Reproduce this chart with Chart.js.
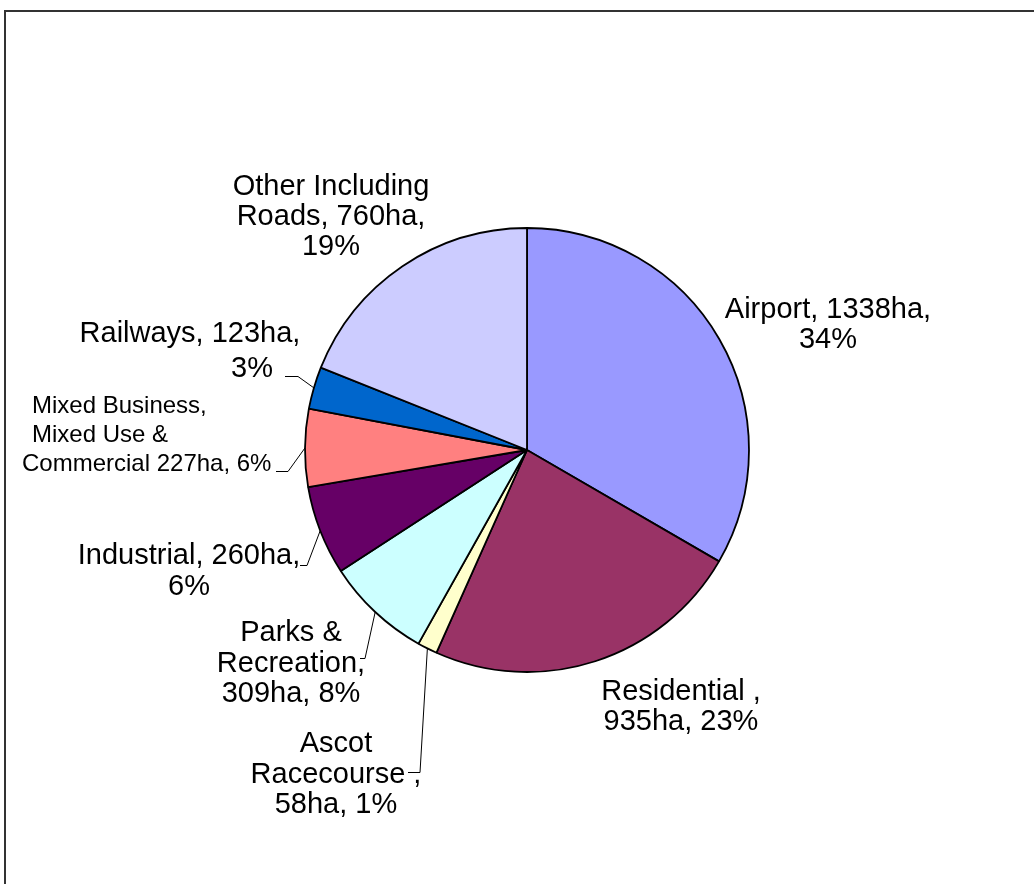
<!DOCTYPE html>
<html>
<head>
<meta charset="utf-8">
<script src="https://cdn.jsdelivr.net/npm/chart.js@4.4.0/dist/chart.umd.min.js"></script>
<style>
  html, body { margin: 0; padding: 0; background: #fff; }
  canvas { display: block; }
</style>
</head>
<body>
<canvas id="landUse" width="1034" height="884"></canvas>
<script>
// land use by category, clockwise from 12 o'clock
var categories = ['Airport', 'Residential', 'Ascot Racecourse', 'Parks & Recreation',
    'Industrial', 'Mixed Business, Mixed Use & Commercial', 'Railways', 'Other Including Roads'];
var hectares = [1338, 935, 58, 309, 260, 227, 123, 760];
var percents = [34, 23, 1, 8, 6, 6, 3, 19];
var colors = ['#9999FF', '#993366', '#FFFFCC', '#CCFFFF', '#660066', '#FF8080', '#0066CC', '#CCCCFF'];

// label text as wrapped in the original
var labelLines = [
    ['Airport, 1338ha,', '34%'],
    ['Residential ,', '935ha, 23%'],
    ['Ascot', 'Racecourse ,', '58ha, 1%'],
    ['Parks &', 'Recreation,', '309ha, 8%'],
    ['Industrial, 260ha,', '6%'],
    ['Mixed Business,', 'Mixed Use &', 'Commercial 227ha, 6%'],
    ['Railways, 123ha,', '3%'],
    ['Other Including', 'Roads, 760ha,', '19%']
];

// where each label sits (x of centre / left, first baseline) and its leader elbow
var labelLayout = [
    { x: 828, y: 318, lh: 30, size: 29, align: 'center' },
    { x: 681, y: 700, lh: 30, size: 29, align: 'center' },
    { x: 336, y: 752, lh: 30.5, size: 29, align: 'center', leader: [408, 772, 420] },
    { x: 291, y: 641, lh: 30.5, size: 29, align: 'center', leader: [360, 658, 365] },
    { x: 189, y: 564, lh: 31, size: 29, align: 'center', leader: [300, 565, 307] },
    { x: 32, y: 413, lh: 29, size: 24, align: 'left', leader: [276, 471, 288] },
    { x: 190, y: 342, lh: 35, size: 29, align: 'center', leader: [285, 376, 298] },
    { x: 331, y: 195, lh: 30, size: 29, align: 'center' }
];
var lineOffsets = { 5: [0, 0, -10], 6: [0, 62] };

var pieLabels = {
    id: 'pieLabels',
    beforeDraw: function(chart) {
        var ctx = chart.ctx;
        ctx.save();
        ctx.strokeStyle = '#333';
        ctx.lineWidth = 2;
        ctx.beginPath();
        ctx.moveTo(5, 890);
        ctx.lineTo(5, 11);
        ctx.lineTo(1040, 11);
        ctx.stroke();
        ctx.restore();
    },
    afterDraw: function(chart) {
        var ctx = chart.ctx;
        var arcs = chart.getDatasetMeta(0).data;
        ctx.save();
        ctx.fillStyle = '#000';
        ctx.textBaseline = 'alphabetic';
        for (var i = 0; i < arcs.length; i++) {
            var lay = labelLayout[i];
            ctx.font = lay.size + 'px "Liberation Sans", Arial, sans-serif';
            ctx.textAlign = lay.align;
            for (var j = 0; j < labelLines[i].length; j++) {
                var dx = (lineOffsets[i] && lineOffsets[i][j]) || 0;
                ctx.fillText(labelLines[i][j], lay.x + dx, lay.y + j * lay.lh);
            }
            if (lay.leader) {
                var a = arcs[i];
                var mid = (a.startAngle + a.endAngle) / 2;
                var ex = a.x + Math.cos(mid) * a.outerRadius;
                var ey = a.y + Math.sin(mid) * a.outerRadius;
                ctx.strokeStyle = '#000';
                ctx.lineWidth = 1;
                ctx.beginPath();
                ctx.moveTo(lay.leader[0], lay.leader[1] + 0.5);
                ctx.lineTo(lay.leader[2], lay.leader[1] + 0.5);
                ctx.lineTo(ex, ey);
                ctx.stroke();
            }
        }
        ctx.restore();
    }
};

new Chart(document.getElementById('landUse').getContext('2d'), {
    type: 'pie',
    data: {
        labels: categories,
        datasets: [{
            data: hectares,
            backgroundColor: colors,
            borderColor: '#000',
            borderWidth: 1.8,
            borderAlign: 'center'
        }]
    },
    options: {
        responsive: false,
        animation: false,
        radius: 222,
        layout: { padding: { left: 305, right: 285, top: 228, bottom: 212 } },
        plugins: {
            legend: { display: false },
            tooltip: { enabled: false }
        }
    },
    plugins: [pieLabels]
});
</script>
</body>
</html>
